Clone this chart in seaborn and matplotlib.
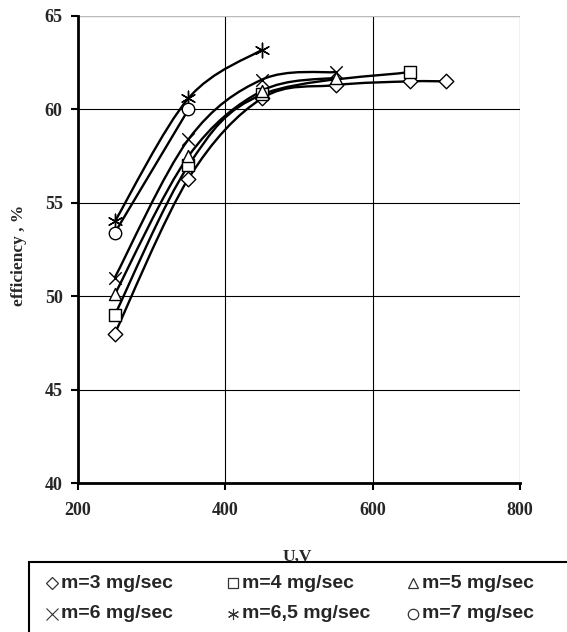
import numpy as np
import matplotlib
matplotlib.use('Agg')
import matplotlib.pyplot as plt
from matplotlib.path import Path
from matplotlib.patches import PathPatch, Rectangle
from matplotlib.lines import Line2D
import seaborn as sns

# Data
u_m3 = [250, 350, 450, 550, 650, 700]
eff_m3 = [48.0, 56.3, 60.6, 61.3, 61.5, 61.5]
u_m4 = [250, 350, 450, 650]
eff_m4 = [49.0, 57.0, 60.8, 62.0]
u_m5 = [250, 350, 450, 550]
eff_m5 = [50.1, 57.5, 61.0, 61.7]
u_m6 = [250, 350, 450, 550]
eff_m6 = [51.0, 58.4, 61.6, 62.0]
u_m65 = [250, 350, 450]
eff_m65 = [54.0, 60.6, 63.2]
u_m7 = [250, 350]
eff_m7 = [53.4, 60.0]

labels = ['m=3 mg/sec', 'm=4 mg/sec', 'm=5 mg/sec',
          'm=6 mg/sec', 'm=6,5 mg/sec', 'm=7 mg/sec']
series = [(u_m3, eff_m3), (u_m4, eff_m4), (u_m5, eff_m5),
          (u_m6, eff_m6), (u_m65, eff_m65), (u_m7, eff_m7)]
markers = ['D', 's', '^', 'x', (6, 2, 0), 'o']
msizes = [55, 75, 75, 80, 110, 80]

sns.set_theme(style='white')
plt.rcParams['font.family'] = ['Liberation Serif', 'DejaVu Serif']

W, H = 567, 632


def smooth_path(xs, ys):
    # Excel-like smoothed line: cubic Bezier segments between the points
    p = np.column_stack([xs, ys]).astype(float)
    n = len(p)
    verts = [p[0]]
    codes = [Path.MOVETO]
    for i in range(n - 1):
        p0 = p[i - 1] if i > 0 else p[i]
        p3 = p[i + 2] if i + 2 < n else p[i + 1]
        c1 = p[i] + (p[i + 1] - p0) / 6
        c2 = p[i + 1] - (p3 - p[i]) / 6
        verts += [c1, c2, p[i + 1]]
        codes += [Path.CURVE4] * 3
    return Path(verts, codes)


fig = plt.figure(figsize=(W / 100, H / 100), dpi=100)
ax = fig.add_axes([78 / W, 1 - 483 / H, 442 / W, 467 / H])

for (xs, ys), mk, sz in zip(series, markers, msizes):
    ax.add_patch(PathPatch(smooth_path(xs, ys), fill=False, edgecolor='black',
                           lw=1.7, zorder=2))
    if mk in ('x', (6, 2, 0)):
        sns.scatterplot(x=xs, y=ys, marker=mk, s=sz, color='black',
                        linewidth=1.0, ax=ax, zorder=3)
    else:
        sns.scatterplot(x=xs, y=ys, marker=mk, s=sz, facecolor='white',
                        edgecolor='black', linewidth=1.0, ax=ax, zorder=3)

ax.set_xlim(200, 800)
ax.set_ylim(40, 65)
ax.set_xticks([200, 400, 600, 800])
ax.set_yticks([40, 45, 50, 55, 60, 65])
ax.grid(True, color='black', lw=0.8)
ax.set_axisbelow(True)
for s in ['top', 'right']:
    ax.spines[s].set_visible(False)
for s in ['left', 'bottom']:
    ax.spines[s].set_color('black')
    ax.spines[s].set_linewidth(2)
ax.axhline(65, color='#bbbbbb', lw=0.8, zorder=1)
ax.tick_params(direction='out', length=5, width=1.5, color='black',
               labelsize=13, bottom=True, left=True)
ax.tick_params(axis='y', pad=6)
ax.tick_params(axis='x', pad=9)
for t in ax.get_xticklabels() + ax.get_yticklabels():
    t.set_fontweight('bold')
ax.set_xlabel('U,V', fontsize=12.5, fontweight='bold')
ax.set_ylabel('efficiency , %', fontsize=12.5, fontweight='bold')
ax.xaxis.set_label_coords((297 - 78) / 442, -(549 - 483) / 467)
ax.yaxis.set_label_coords((27 - 78) / 442, (483 - 255) / 467)

# legend box drawn by hand so its columns sit where the original has them
fig.add_artist(Rectangle((29 / W, -0.05), 0.99, 1 - 562 / H + 0.05,
                         transform=fig.transFigure, fill=False,
                         edgecolor='black', lw=1.5, clip_on=False))
col_x = [52, 233, 413]
row_y = [583, 614]
for i, (lab, mk) in enumerate(zip(labels, markers)):
    cx = col_x[i % 3]
    cy = row_y[i // 3]
    if mk in ('x', (6, 2, 0)):
        h = Line2D([cx / W], [1 - cy / H], ls='none', marker=mk,
                   color='#333333', markersize=8, markeredgewidth=0.8,
                   transform=fig.transFigure)
    else:
        h = Line2D([cx / W], [1 - cy / H], ls='none', marker=mk,
                   markerfacecolor='white', markeredgecolor='#333333',
                   markersize=6.5 if mk == 'D' else 7.5, markeredgewidth=0.9,
                   transform=fig.transFigure)
    fig.add_artist(h)
    fig.text((cx + 9) / W, 1 - cy / H, lab, ha='left', va='center',
             family='Liberation Sans', fontweight='bold', fontsize=14)

fig.savefig('out.png', dpi=100)
